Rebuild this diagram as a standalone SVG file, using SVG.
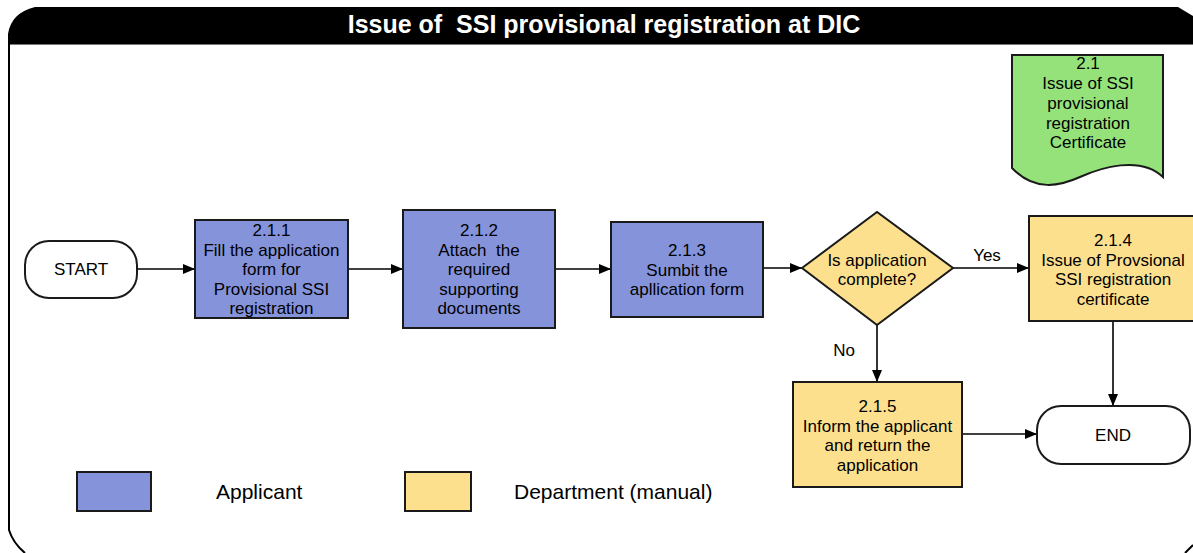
<svg xmlns="http://www.w3.org/2000/svg" width="1193" height="553" viewBox="0 0 1193 553">
<style>
text{font-family:"Liberation Sans",Arial,sans-serif;fill:#000;white-space:pre}
.t{font-size:17px;text-anchor:middle}
.lg{font-size:21px}
.title{font-size:25px;font-weight:bold;fill:#fff;text-anchor:middle}
.app{fill:#8593DB;stroke:#1a1a1a;stroke-width:2}
.dep{fill:#FDE08E;stroke:#1a1a1a;stroke-width:2}
.term{fill:#fff;stroke:#1a1a1a;stroke-width:2}
.doc{fill:#95E27B;stroke:#1a1a1a;stroke-width:2}
.c{fill:none;stroke:#000;stroke-width:1.6;marker-end:url(#ah)}
</style>
<defs>
<marker id="ah" markerUnits="userSpaceOnUse" markerWidth="12" markerHeight="10" refX="12" refY="5" orient="auto">
<path d="M0,0 L12,5 L0,10 Z" fill="#000"/>
</marker>
</defs>
<rect width="1193" height="553" fill="#fff"/>
<g id="frame">
<path d="M8,44 L8,34 Q11,13 35,7 L1178,7 L1193,16 L1193,44 Z" fill="#000"/>
<line x1="8" y1="44.5" x2="1193" y2="44.5" stroke="#777" stroke-width="1"/>
<path d="M9,44 V530 Q13,543 25,553" fill="none" stroke="#000" stroke-width="2"/>
<path d="M1185,553 L1193,545" fill="none" stroke="#000" stroke-width="2"/>
<text class="title" x="604" y="33" xml:space="preserve">Issue of  SSI provisional registration at DIC</text>
</g>
<g id="connectors">
<path class="c" d="M137,269 H195"/>
<path class="c" d="M348,269 H403"/>
<path class="c" d="M555,269 H611"/>
<path class="c" d="M763,268 H802"/>
<path class="c" d="M953,268 H1029"/>
<path class="c" d="M877,325 V382"/>
<path class="c" d="M1113,321 V406"/>
<path class="c" d="M962,434 H1037"/>
<text class="t" x="987" y="261">Yes</text>
<text class="t" x="844" y="356">No</text>
</g>
<g id="doc21">
<path class="doc" d="M1012,55 H1163 V177 C1140,155 1100,168 1080,177 C1060,186 1035,192 1012,168 Z"/>
<text class="t" x="1088" y="69">2.1</text>
<text class="t" x="1088" y="89">Issue of SSI</text>
<text class="t" x="1088" y="109">provisional</text>
<text class="t" x="1088" y="128.5">registration</text>
<text class="t" x="1088" y="148">Certificate</text>
</g>
<g id="start">
<rect class="term" x="25" y="241" width="112" height="57" rx="24" ry="24"/>
<text class="t" x="81" y="275">START</text>
</g>
<g id="n211">
<rect class="app" x="195" y="220" width="153" height="98"/>
<text class="t" x="271.5" y="236">2.1.1</text>
<text class="t" x="271.5" y="255.5">Fill the application</text>
<text class="t" x="271.5" y="275">form for</text>
<text class="t" x="271.5" y="294.5">Provisional SSI</text>
<text class="t" x="271.5" y="314">registration</text>
</g>
<g id="n212">
<rect class="app" x="403" y="210" width="152" height="118"/>
<text class="t" x="479" y="236">2.1.2</text>
<text class="t" x="479" y="255.5" xml:space="preserve">Attach  the</text>
<text class="t" x="479" y="275">required</text>
<text class="t" x="479" y="294.5">supporting</text>
<text class="t" x="479" y="314">documents</text>
</g>
<g id="n213">
<rect class="app" x="611" y="222" width="152" height="95"/>
<text class="t" x="687" y="256">2.1.3</text>
<text class="t" x="687" y="275.5">Sumbit the</text>
<text class="t" x="687" y="295">apllication form</text>
</g>
<g id="decision">
<path class="dep" d="M802,268 L877,212 L953,268 L877,325 Z"/>
<text class="t" x="877" y="265.5">Is application</text>
<text class="t" x="877" y="285">complete?</text>
</g>
<g id="n214">
<rect class="dep" x="1029" y="216" width="168" height="105"/>
<text class="t" x="1113" y="246">2.1.4</text>
<text class="t" x="1113" y="265.5">Issue of Provsional</text>
<text class="t" x="1113" y="285">SSI registration</text>
<text class="t" x="1113" y="304.5">certificate</text>
</g>
<g id="n215">
<rect class="dep" x="793" y="382" width="169" height="105"/>
<text class="t" x="877.5" y="412">2.1.5</text>
<text class="t" x="877.5" y="431.5">Inform the applicant</text>
<text class="t" x="877.5" y="451">and return the</text>
<text class="t" x="877.5" y="470.5">application</text>
</g>
<g id="end">
<rect class="term" x="1037" y="406" width="153" height="58" rx="24" ry="24"/>
<text class="t" x="1113" y="441">END</text>
</g>
<g id="legend">
<rect class="app" x="77" y="472" width="74" height="39"/>
<text class="lg" x="216" y="499">Applicant</text>
<rect class="dep" x="405" y="472" width="66" height="39"/>
<text class="lg" x="514" y="499">Department (manual)</text>
</g>
</svg>
